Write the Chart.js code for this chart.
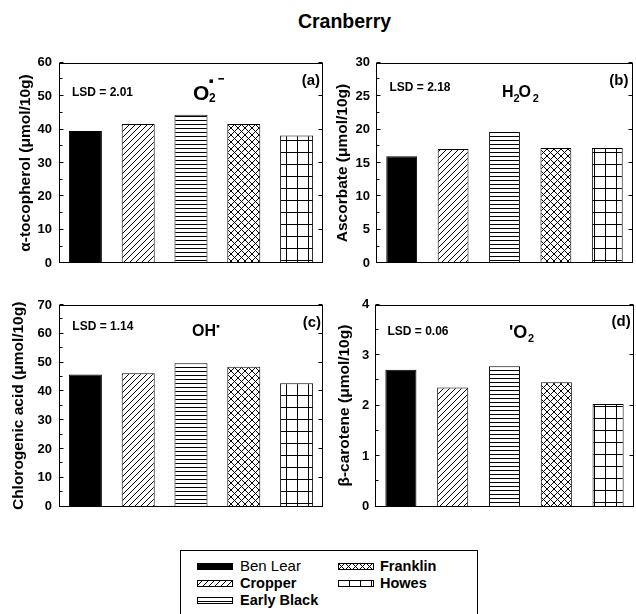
<!DOCTYPE html>
<html><head><meta charset="utf-8">
<script src="https://cdn.jsdelivr.net/npm/chart.js@4"></script>
<style>
html,body{margin:0;padding:0;background:#fff;}
body{width:636px;height:614px;position:relative;overflow:hidden;font-family:"Liberation Sans",Arial,Helvetica,sans-serif;color:#000;}
canvas.panel{position:absolute;}
#title{position:absolute;top:10.5px;left:344.5px;transform:translateX(-50%);font-weight:bold;font-size:19.5px;line-height:20px;white-space:nowrap;}
#legend{position:absolute;left:180px;top:550px;width:298px;height:80px;border:1px solid #000;box-sizing:border-box;}
.lg{position:absolute;white-space:nowrap;line-height:18px;}
.sw{position:absolute;}
</style>
</head><body>
<div id="title">Cranberry</div>
<canvas id="pa" class="panel"></canvas>
<canvas id="pb" class="panel"></canvas>
<canvas id="pc" class="panel"></canvas>
<canvas id="pd" class="panel"></canvas>
<div id="legend"></div>
<script>
// ---- data ----
const categories = ['Ben Lear', 'Cropper', 'Early Black', 'Franklin', 'Howes'];
const tocopherol = [39.6, 41.7, 44.4, 41.7, 38.2];
const ascorbate = [16.0, 17.1, 19.65, 17.25, 17.25];
const chlorogenic = [45.9, 46.3, 49.8, 48.6, 42.8];
const carotene = [2.71, 2.36, 2.78, 2.46, 2.03];
const yMaxes = [60, 30, 70, 4];
const ySteps = [10, 5, 10, 1];
const yTitles = ['α-tocopherol (μmol/10g)', 'Ascorbate (μmol/10g)', 'Chlorogenic acid (μmol/10g)', 'β-carotene (μmol/10g)'];
const lsdLabels = ['LSD = 2.01', 'LSD = 2.18', 'LSD = 1.14', 'LSD = 0.06'];
const panelTags = ['(a)', '(b)', '(c)', '(d)'];
const fillKinds = ['solid', 'diag', 'horiz', 'cross', 'grid'];

const FAM = '"Liberation Sans", Arial, Helvetica, sans-serif';

function makePattern(kind) {
  if (kind === 'solid') return '#000';
  const c = document.createElement('canvas');
  let w = 6, h = 6;
  if (kind === 'horiz') { w = 4; h = 4; }
  if (kind === 'cross') { w = 7; h = 7; }
  if (kind === 'grid') { w = 11; h = 12; }
  c.width = w; c.height = h;
  const g = c.getContext('2d');
  g.fillStyle = '#fff'; g.fillRect(0, 0, w, h);
  g.strokeStyle = '#000'; g.fillStyle = '#000'; g.lineWidth = 1;
  if (kind === 'diag') {
    g.beginPath();
    g.moveTo(0, h); g.lineTo(w, 0);
    g.moveTo(-1, 1); g.lineTo(1, -1);
    g.moveTo(w - 1, h + 1); g.lineTo(w + 1, h - 1);
    g.stroke();
  } else if (kind === 'horiz') {
    g.fillRect(0, 0, w, 1);
  } else if (kind === 'cross') {
    g.beginPath();
    g.moveTo(0, h); g.lineTo(w, 0);
    g.moveTo(-1, 1); g.lineTo(1, -1);
    g.moveTo(w - 1, h + 1); g.lineTo(w + 1, h - 1);
    g.moveTo(0, 0); g.lineTo(w, h);
    g.moveTo(-1, h - 1); g.lineTo(1, h + 1);
    g.moveTo(w - 1, -1); g.lineTo(w + 1, 1);
    g.stroke();
  } else if (kind === 'grid') {
    g.fillRect(0, 0, 1, h);
    g.fillRect(0, 0, w, 1);
  }
  return g.createPattern(c, 'repeat');
}
const fills = fillKinds.map(makePattern);

const panelDeco = {
  id: 'panelDeco',
  afterDraw(chart, args, o) {
    const { ctx, chartArea: a } = chart;
    const ys = chart.scales.y;
    ctx.save();
    ctx.strokeStyle = '#000';
    ctx.lineWidth = 1;
    const L = Math.round(a.left) + 0.5, R = Math.round(a.right) - 0.5;
    const T = Math.round(a.top) + 0.5, B = Math.round(a.bottom) - 0.5;
    ctx.strokeRect(L, T, R - L, B - T);
    ctx.beginPath();
    const step = o.step;
    for (let i = 0; i <= Math.round(o.max / (step / 2)); i++) {
      const v = i * step / 2;
      const y = Math.round(ys.getPixelForValue(v)) - 0.5;
      const major = i % 2 === 0;
      ctx.moveTo(L, y); ctx.lineTo(L + (major ? 4 : 3), y);
      if (major) { ctx.moveTo(R, y); ctx.lineTo(R - 4, y); }
    }
    ctx.stroke();
    ctx.fillStyle = '#000';
    ctx.textBaseline = 'middle';
    ctx.textAlign = 'left';
    ctx.font = 'bold 12px ' + FAM;
    ctx.fillText(o.lsd, a.left + o.lsdX, a.top + o.lsdY);
    ctx.textAlign = 'right';
    ctx.font = 'bold 15px ' + FAM;
    ctx.fillText(o.tag, a.right - o.tagX, a.top + o.tagY);
    ctx.textAlign = 'left';
    ctx.textBaseline = 'alphabetic';
    for (const s of o.species) {
      if (s.rect) {
        ctx.fillRect(a.left + s.rect[0], a.top + s.rect[1], s.rect[2], s.rect[3]);
      } else {
        ctx.font = 'bold ' + s.size + 'px ' + FAM;
        ctx.fillText(s.t, a.left + s.dx, a.top + s.dy);
      }
    }
    ctx.restore();
  }
};

// target plot areas in page pixels
const panels = [
  { id: 'pa', data: tocopherol, cl: 0, cw: 330, area: { T: 62.7, B: 263.3, R: 323 },
    axisW: 59, tickPad: 7, titlePad: 16.2, barPct: 0.625,
    lsdX: 13, lsdY: 30, tagX: 3, tagY: 17.8,
    species: [
      { t: 'O', dx: 134, dy: 37.3, size: 21 },
      { t: '2', dx: 150, dy: 38.8, size: 12 },
      { rect: [150.5, 16.7, 3.5, 3.5] },
      { rect: [159.3, 15.3, 5.7, 1.6] }
    ] },
  { id: 'pb', data: ascorbate, cl: 330, cw: 306, area: { T: 62.7, B: 263.3, R: 633 },
    axisW: 46, tickPad: 6, titlePad: 3.7, barPct: 0.6,
    lsdX: 13.5, lsdY: 25, tagX: 4.5, tagY: 17.8,
    species: [
      { t: 'H', dx: 126, dy: 34, size: 16 },
      { t: '2', dx: 137.6, dy: 38.8, size: 11 },
      { t: 'O', dx: 142.5, dy: 34, size: 16 },
      { t: '2', dx: 156.8, dy: 38.8, size: 11 }
    ] },
  { id: 'pc', data: chlorogenic, cl: 0, cw: 330, area: { T: 305, B: 506.7, R: 323 },
    axisW: 59, tickPad: 7, titlePad: 9.2, barPct: 0.625,
    lsdX: 13.3, lsdY: 21.7, tagX: 2, tagY: 18,
    species: [
      { t: 'OH', dx: 133, dy: 31, size: 16 },
      { rect: [157.7, 20, 2.6, 2.6] }
    ] },
  { id: 'pd', data: carotene, cl: 330, cw: 306, area: { T: 304.5, B: 506.7, R: 634 },
    axisW: 45, tickPad: 5.7, titlePad: 5.7, barPct: 0.6,
    lsdX: 12.5, lsdY: 27.2, tagX: 3.3, tagY: 17.5,
    species: [
      { t: '\'O', dx: 134, dy: 33.8, size: 18 },
      { t: '2', dx: 153, dy: 37.2, size: 11 }
    ] }
];

const MARGIN = 18;
panels.forEach((p, i) => {
  const cv = document.getElementById(p.id);
  const ctop = Math.floor(p.area.T - MARGIN);
  const H = Math.ceil(p.area.B - ctop + MARGIN);
  const pad = { top: p.area.T - ctop, bottom: H - (p.area.B - ctop), left: 0, right: p.cl + p.cw - p.area.R };
  cv.style.left = p.cl + 'px'; cv.style.top = ctop + 'px';
  cv.style.width = p.cw + 'px'; cv.style.height = H + 'px';
  cv.width = p.cw; cv.height = H;
  new Chart(cv, {
    type: 'bar',
    data: {
      labels: categories,
      datasets: [{
        data: p.data,
        backgroundColor: fills,
        borderColor: '#000',
        borderWidth: 1,
        barPercentage: p.barPct,
        categoryPercentage: 1
      }]
    },
    options: {
      responsive: false,
      animation: false,
      devicePixelRatio: 1,
      layout: { padding: pad },
      plugins: {
        legend: { display: false },
        tooltip: { enabled: false },
        panelDeco: {
          max: yMaxes[i], step: ySteps[i],
          lsd: lsdLabels[i], tag: panelTags[i],
          lsdX: p.lsdX, lsdY: p.lsdY, tagX: p.tagX, tagY: p.tagY,
          species: p.species
        }
      },
      scales: {
        x: { display: false, offset: true, grid: { display: false } },
        y: {
          min: 0, max: yMaxes[i],
          grid: { display: false, drawTicks: false },
          border: { display: false },
          ticks: { stepSize: ySteps[i], autoSkip: false, color: '#000', padding: p.tickPad,
                   font: { family: FAM, size: 13, weight: 'bold' } },
          title: { display: true, text: yTitles[i], color: '#000',
                   padding: { top: p.titlePad, bottom: 0 },
                   font: { family: FAM, size: 15.5, weight: 'bold' } },
          afterFit: (s) => { s.width = p.axisW; }
        }
      }
    },
    plugins: [panelDeco]
  });
});

// ---- legend ----
const legendPos = [
  { x: 16, y: 15, sx: 16, bold: false },
  { x: 16, y: 32, sx: 16, bold: true },
  { x: 16, y: 49, sx: 16, bold: true },
  { x: 156, y: 15, sx: 157, bold: true },
  { x: 156, y: 32, sx: 157, bold: true }
];
const lg = document.getElementById('legend');
categories.forEach((name, k) => {
  const lp = legendPos[k];
  const sw = document.createElement('canvas');
  sw.className = 'sw'; sw.width = 36; sw.height = 7;
  sw.style.left = lp.sx + 'px'; sw.style.top = (lp.y - 3) + 'px';
  const g = sw.getContext('2d');
  g.fillStyle = fills[k]; g.fillRect(0, 0, 36, 7);
  g.strokeStyle = '#000'; g.lineWidth = 1; g.strokeRect(0.5, 0.5, 35, 6);
  lg.appendChild(sw);
  const t = document.createElement('div');
  t.className = 'lg';
  t.textContent = name;
  t.style.left = (lp.x + 43) + 'px';
  t.style.top = (lp.y - 9) + 'px';
  t.style.fontSize = lp.bold ? '14.5px' : '15px';
  t.style.fontWeight = lp.bold ? 'bold' : 'normal';
  lg.appendChild(t);
});
</script>
</body></html>
